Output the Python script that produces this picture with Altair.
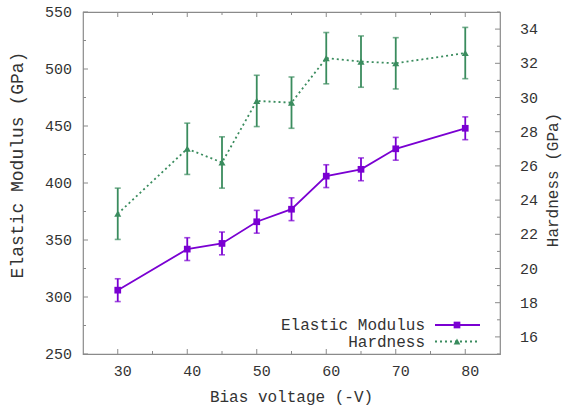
import altair as alt
import pandas as pd

# ---------------- data ----------------
bias = [30, 40, 45, 50, 55, 60, 65, 70, 80]
modulus = [306, 342, 347, 366, 377, 406, 412, 430, 448]
modulus_err = [10, 10, 10, 10, 10, 10, 10, 10, 10]
hardness = [23.2, 27.0, 26.2, 29.8, 29.7, 32.3, 32.1, 32.0, 32.6]
hardness_err = [1.5, 1.5, 1.5, 1.5, 1.5, 1.5, 1.5, 1.5, 1.5]
series_names = ["Elastic Modulus", "Hardness"]
axis_titles = ["Bias voltage (-V)", "Elastic Modulus (GPa)", "Hardness (GPa)"]

x_major = [30, 40, 50, 60, 70, 80]
x_minor = [35, 45, 55, 65, 75]
mod_major = [250, 300, 350, 400, 450, 500, 550]
mod_minor = [275, 325, 375, 425, 475, 525]
hard_major = [16, 18, 20, 22, 24, 26, 28, 30, 32, 34]
hard_minor = [15, 17, 19, 21, 23, 25, 27, 29, 31, 33, 35]

PURPLE = "#7a00d2"
GREEN = "#3a8c5e"
FONT = "Liberation Mono"
TXT = "#333333"
BORDER = "#8a8a8a"
W, H = 417, 342

df = pd.DataFrame({
    "bias": bias,
    "mod": modulus,
    "mod_lo": [m - e for m, e in zip(modulus, modulus_err)],
    "mod_hi": [m + e for m, e in zip(modulus, modulus_err)],
    "hard": hardness,
    "hard_lo": [h - e for h, e in zip(hardness, hardness_err)],
    "hard_hi": [h + e for h, e in zip(hardness, hardness_err)],
})

xscale = alt.Scale(domain=[25, 85], nice=False, zero=False)
mscale = alt.Scale(domain=[250, 550], nice=False, zero=False)
hscale = alt.Scale(domain=[15, 35], nice=False, zero=False)


def X(f):
    return alt.X(f, scale=xscale, axis=None)


def YM(f):
    return alt.Y(f, scale=mscale, axis=None)


def YH(f):
    return alt.Y(f, scale=hscale, axis=None)


base = alt.Chart(df)

# ---------------- tick marks (inward, gnuplot style) ----------------
def xticks(vals, ln):
    t = pd.DataFrame({"v": vals})
    bottom = alt.Chart(t).mark_rule(color=BORDER, strokeWidth=1).encode(
        x=X("v:Q"), y=alt.value(H), y2=alt.value(H - ln))
    top = alt.Chart(t).mark_rule(color=BORDER, strokeWidth=1).encode(
        x=X("v:Q"), y=alt.value(0), y2=alt.value(ln))
    return [bottom, top]


def yticks(vals, ln, Yf, right):
    t = pd.DataFrame({"v": vals})
    x0 = W if right else 0
    x1 = W - ln if right else ln
    return alt.Chart(t).mark_rule(color=BORDER, strokeWidth=1).encode(
        y=Yf("v:Q"), x=alt.value(x0), x2=alt.value(x1))


def label_text(**kw):
    return dict(font=FONT, fontSize=15, color=TXT, baseline="middle", **kw)


# ---------------- modulus group ----------------
mod_line = base.mark_line(color=PURPLE, strokeWidth=1.8).encode(x=X("bias:Q"), y=YM("mod:Q"))
mod_err = base.mark_rule(color=PURPLE, strokeWidth=1.8).encode(
    x=X("bias:Q"), y=YM("mod_lo:Q"), y2="mod_hi:Q")
mod_cap_lo = base.mark_tick(color=PURPLE, orient="horizontal", size=6, thickness=1.6).encode(
    x=X("bias:Q"), y=YM("mod_lo:Q"))
mod_cap_hi = base.mark_tick(color=PURPLE, orient="horizontal", size=6, thickness=1.6).encode(
    x=X("bias:Q"), y=YM("mod_hi:Q"))
mod_pts = base.mark_point(shape="square", filled=True, color=PURPLE, size=45, opacity=1).encode(
    x=X("bias:Q"), y=YM("mod:Q"))
mod_labels = alt.Chart(pd.DataFrame({"v": mod_major})).mark_text(
    **label_text(align="right")).encode(y=YM("v:Q"), x=alt.value(-11), text="v:Q")
mod_group = alt.layer(
    mod_line, mod_err, mod_cap_lo, mod_cap_hi, mod_pts, mod_labels,
    yticks(mod_major, 5, YM, False), yticks(mod_minor, 3, YM, False))

# ---------------- hardness group ----------------
hard_line = base.mark_line(color=GREEN, strokeWidth=1.8, strokeDash=[2, 3]).encode(
    x=X("bias:Q"), y=YH("hard:Q"))
hard_err = base.mark_rule(color=GREEN, strokeWidth=1.8).encode(
    x=X("bias:Q"), y=YH("hard_lo:Q"), y2="hard_hi:Q")
hard_cap_lo = base.mark_tick(color=GREEN, orient="horizontal", size=6, thickness=1.6).encode(
    x=X("bias:Q"), y=YH("hard_lo:Q"))
hard_cap_hi = base.mark_tick(color=GREEN, orient="horizontal", size=6, thickness=1.6).encode(
    x=X("bias:Q"), y=YH("hard_hi:Q"))
hard_pts = base.mark_point(shape="triangle-up", filled=True, color=GREEN, size=50, opacity=1).encode(
    x=X("bias:Q"), y=YH("hard:Q"))
hard_labels = alt.Chart(pd.DataFrame({"v": hard_major})).mark_text(
    **label_text(align="left")).encode(y=YH("v:Q"), x=alt.value(W + 20), text="v:Q")
hard_group = alt.layer(
    hard_line, hard_err, hard_cap_lo, hard_cap_hi, hard_pts, hard_labels,
    yticks(hard_major, 5, YH, True), yticks(hard_minor, 3, YH, True))

# ---------------- x labels and axis titles ----------------
x_labels = alt.Chart(pd.DataFrame({"v": x_major})).mark_text(
    **label_text(align="center", dx=5)).encode(x=X("v:Q"), y=alt.value(H + 17), text="v:Q")

tdf = pd.DataFrame({"t": axis_titles})
title_x = alt.Chart(tdf).transform_filter(alt.datum.t == axis_titles[0]).mark_text(
    font=FONT, fontSize=16, color=TXT, align="center", baseline="middle").encode(
    text="t:N", x=alt.value(208.5), y=alt.value(385))
title_l = alt.Chart(tdf).transform_filter(alt.datum.t == axis_titles[1]).mark_text(
    font=FONT, fontSize=18, color=TXT, align="center", baseline="middle", angle=270).encode(
    text="t:N", x=alt.value(-65), y=alt.value(153))
title_r = alt.Chart(tdf).transform_filter(alt.datum.t == axis_titles[2]).mark_text(
    font=FONT, fontSize=16, color=TXT, align="center", baseline="middle", angle=270).encode(
    text="t:N", x=alt.value(W + 53), y=alt.value(168))

# ---------------- legend (bottom-right, inside) ----------------
leg_layers = []
leg_rows = [(series_names[0], PURPLE, "square", None, 313),
            (series_names[1], GREEN, "triangle-up", [2, 3], 329.5)]
for name, col, shp, dash, ly in leg_rows:
    lc = alt.Chart(pd.DataFrame({"name": [name]}))
    leg_layers.append(lc.mark_text(align="right", baseline="middle", font=FONT,
                                   fontSize=16, color=TXT).encode(
        text="name:N", x=alt.value(342), y=alt.value(ly)))
    rule_kw = dict(color=col, strokeWidth=1.8)
    if dash is not None:
        rule_kw["strokeDash"] = dash
    leg_layers.append(lc.mark_rule(**rule_kw).encode(
        x=alt.value(352), x2=alt.value(397), y=alt.value(ly)))
    leg_layers.append(lc.mark_point(shape=shp, filled=True, color=col, size=45, opacity=1).encode(
        x=alt.value(374), y=alt.value(ly)))

chart = alt.layer(
    mod_group, hard_group, *xticks(x_major, 5), *xticks(x_minor, 3),
    x_labels, title_x, title_l, title_r, *leg_layers
).resolve_scale(y="independent").properties(
    width=W, height=H,
    autosize=alt.AutoSizeParams(type="none"),
    padding={"left": 83, "top": 12, "right": 63, "bottom": 53},
    background="white",
).configure_view(stroke=BORDER, strokeWidth=1.2)

chart.save("out.html", embed_options={"renderer": "svg", "actions": False})
